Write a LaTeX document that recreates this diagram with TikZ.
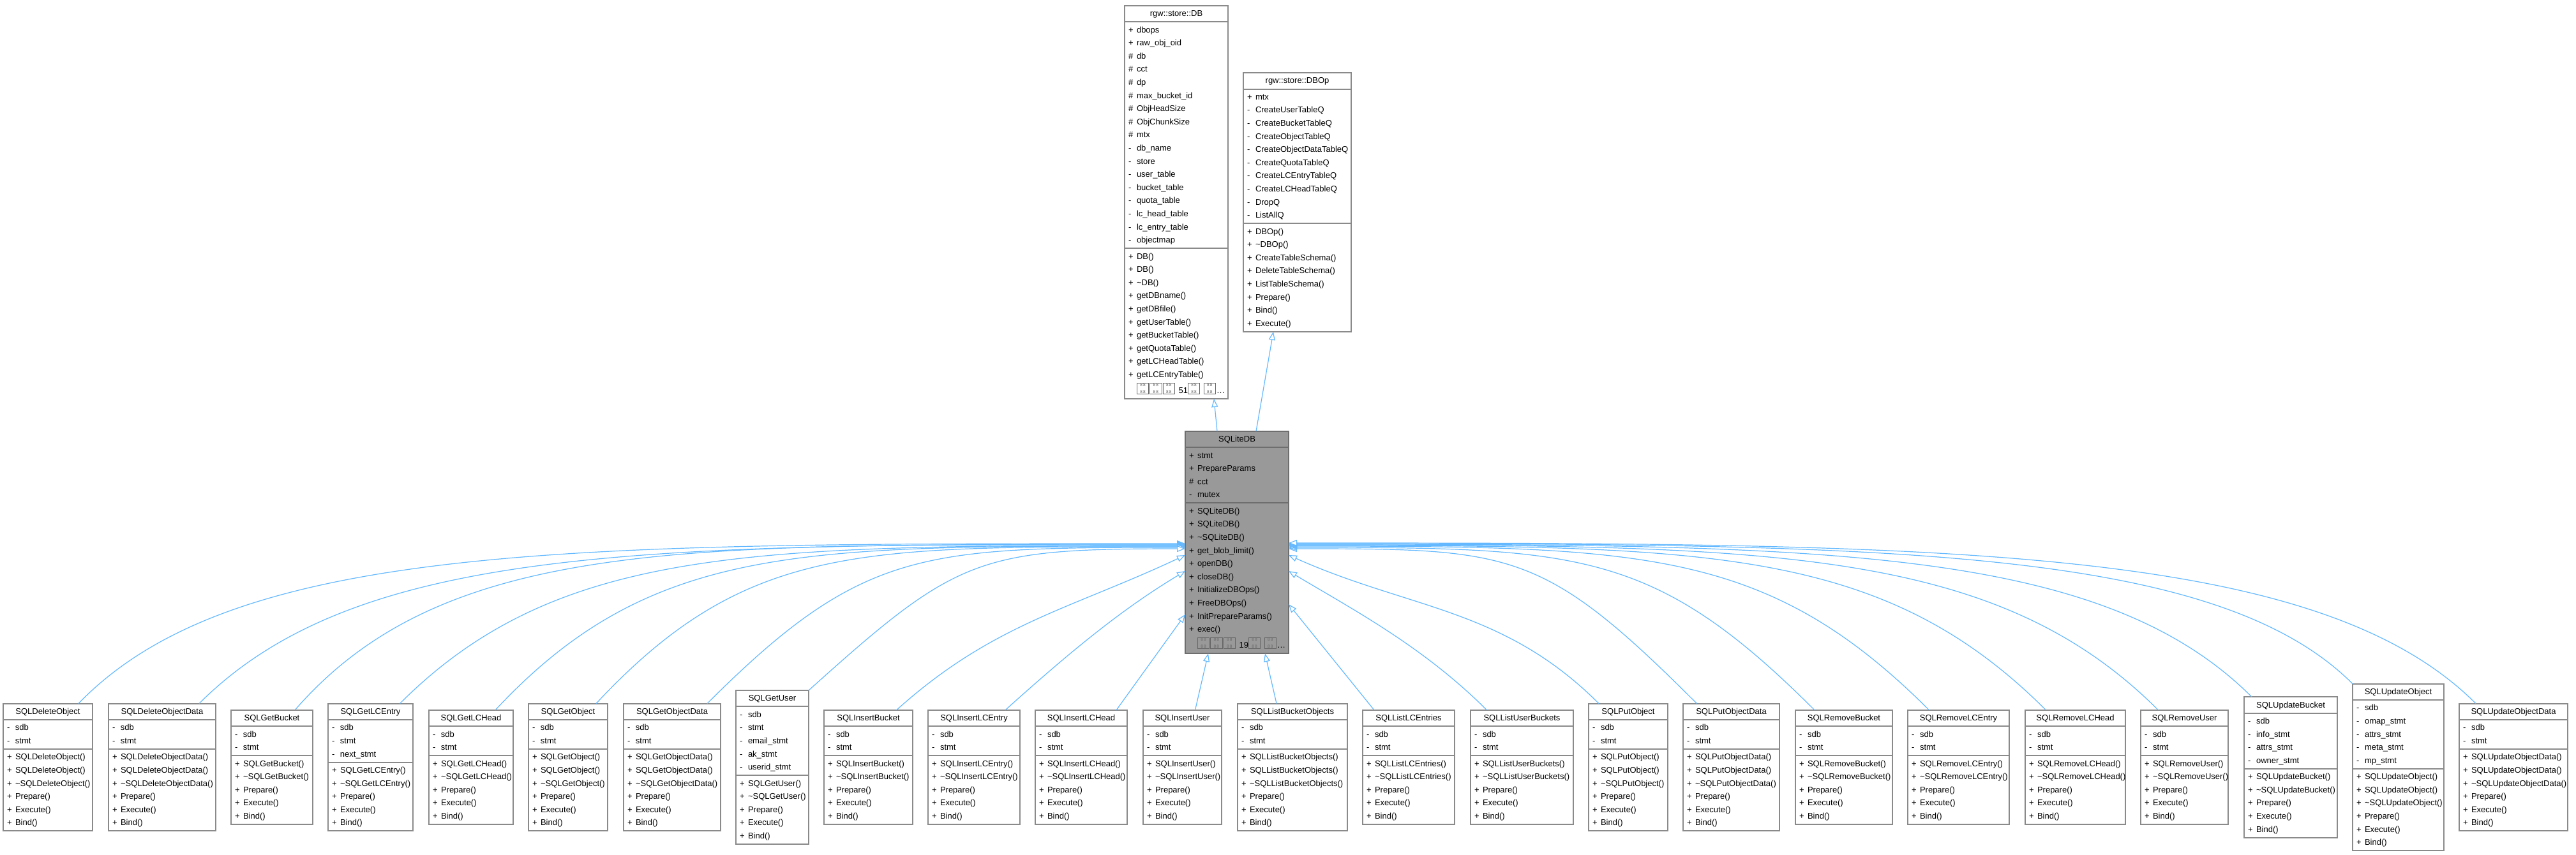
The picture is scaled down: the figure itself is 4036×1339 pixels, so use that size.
\documentclass[tikz,border=0pt]{standalone}
\usepackage{fontspec}
\setmainfont{Liberation Sans}
\usetikzlibrary{shapes.multipart,arrows.meta,calc}

\definecolor{boxgray}{HTML}{8A8A8A}
\definecolor{focusgray}{HTML}{999999}
\definecolor{focusline}{HTML}{6E6E6E}
\definecolor{edgeblue}{HTML}{63B8FF}

% class title, centred in its part
\newcommand\ttl[1]{\makebox[\hsize]{\strut #1}}
% one member line: visibility column + name
\newcommand\mbr[2]{\strut\makebox[6.5pt][l]{#1}#2}
% the missing-glyph boxes of the "more members" line
\newcommand\tofu{\textcolor{black!60}{\setlength\fboxsep{0.3pt}\setlength\fboxrule{0.45pt}\fbox{\makebox[8pt]{\fontsize{3.3}{3.3}\selectfont\shortstack{8\,8\\8\,8}}}}\hspace{0.7pt}}

\begin{document}
\begin{tikzpicture}
        [x=0.5pt, y=-0.5pt,
        umlclass/.style={rectangle split, rectangle split parts=3, draw=boxgray, fill=white, line width=1pt,
          align=left, inner xsep=3pt, inner ysep=0.7pt, outer sep=0pt, anchor=west,
          font=\fontsize{6.5}{10.3}\selectfont},
        focusclass/.style={umlclass, fill=focusgray, draw=focusline},
        derive/.style={edgeblue, line width=0.6pt, -{Triangle[fill=white, length=6.5pt, width=5pt]}}]

        \useasboundingbox (0,0) rectangle (4036,1339);

        % base classes
        \node[umlclass, text width=75pt] (DB) at (1762,317) {\ttl{rgw::store::DB}
          \nodepart{two}\mbr{+}{dbops}\\ \mbr{+}{raw\_obj\_oid}\\ \mbr{\#}{db}\\ \mbr{\#}{cct}\\ \mbr{\#}{dp}\\
          \mbr{\#}{max\_bucket\_id}\\ \mbr{\#}{ObjHeadSize}\\ \mbr{\#}{ObjChunkSize}\\ \mbr{\#}{mtx}\\
          \mbr{-}{db\_name}\\ \mbr{-}{store}\\ \mbr{-}{user\_table}\\ \mbr{-}{bucket\_table}\\ \mbr{-}{quota\_table}\\
          \mbr{-}{lc\_head\_table}\\ \mbr{-}{lc\_entry\_table}\\ \mbr{-}{objectmap}
          \nodepart{three}\mbr{+}{DB()}\\ \mbr{+}{DB()}\\ \mbr{+}{\textasciitilde DB()}\\ \mbr{+}{getDBname()}\\
          \mbr{+}{getDBfile()}\\ \mbr{+}{getUserTable()}\\ \mbr{+}{getBucketTable()}\\ \mbr{+}{getQuotaTable()}\\
          \mbr{+}{getLCHeadTable()}\\ \mbr{+}{getLCEntryTable()}\\ \mbr{}{\mbox{\tofu\tofu\tofu\ 51\tofu\ \tofu\dots}}};
        \node[umlclass, text width=78.5pt] (DBOp) at (1948,317) {\ttl{rgw::store::DBOp}
          \nodepart{two}\mbr{+}{mtx}\\ \mbr{-}{CreateUserTableQ}\\ \mbr{-}{CreateBucketTableQ}\\ \mbr{-}{CreateObjectTableQ}\\
          \mbr{-}{CreateObjectDataTableQ}\\ \mbr{-}{CreateQuotaTableQ}\\ \mbr{-}{CreateLCEntryTableQ}\\
          \mbr{-}{CreateLCHeadTableQ}\\ \mbr{-}{DropQ}\\ \mbr{-}{ListAllQ}
          \nodepart{three}\mbr{+}{DBOp()}\\ \mbr{+}{\textasciitilde DBOp()}\\ \mbr{+}{CreateTableSchema()}\\
          \mbr{+}{DeleteTableSchema()}\\ \mbr{+}{ListTableSchema()}\\ \mbr{+}{Prepare()}\\ \mbr{+}{Bind()}\\ \mbr{+}{Execute()}};

        % the class itself
        \node[focusclass, text width=75pt] (SQLiteDB) at (1857,850) {\ttl{SQLiteDB}
          \nodepart{two}\mbr{+}{stmt}\\ \mbr{+}{PrepareParams}\\ \mbr{\#}{cct}\\ \mbr{-}{mutex}
          \nodepart{three}\mbr{+}{SQLiteDB()}\\ \mbr{+}{SQLiteDB()}\\ \mbr{+}{\textasciitilde SQLiteDB()}\\
          \mbr{+}{get\_blob\_limit()}\\ \mbr{+}{openDB()}\\ \mbr{+}{closeDB()}\\ \mbr{+}{InitializeDBOps()}\\
          \mbr{+}{FreeDBOps()}\\ \mbr{+}{InitPrepareParams()}\\ \mbr{+}{exec()}\\ \mbr{}{\mbox{\tofu\tofu\tofu\ 19\tofu\ \tofu\dots}}};

        % derived classes
        \node[umlclass, text width=64pt] (SQLDeleteObject) at (5,1202.5) {\ttl{SQLDeleteObject}
          \nodepart{two}\mbr{-}{sdb}\\ \mbr{-}{stmt}
          \nodepart{three}\mbr{+}{SQLDeleteObject()}\\ \mbr{+}{SQLDeleteObject()}\\ \mbr{+}{\textasciitilde SQLDeleteObject()}\\
          \mbr{+}{Prepare()}\\ \mbr{+}{Execute()}\\ \mbr{+}{Bind()}};
        \node[umlclass, text width=78pt] (SQLDeleteObjectData) at (170,1202.5) {\ttl{SQLDeleteObjectData}
          \nodepart{two}\mbr{-}{sdb}\\ \mbr{-}{stmt}
          \nodepart{three}\mbr{+}{SQLDeleteObjectData()}\\ \mbr{+}{SQLDeleteObjectData()}\\ \mbr{+}{\textasciitilde SQLDeleteObjectData()}\\
          \mbr{+}{Prepare()}\\ \mbr{+}{Execute()}\\ \mbr{+}{Bind()}};
        \node[umlclass, text width=58pt] (SQLGetBucket) at (362,1202.5) {\ttl{SQLGetBucket}
          \nodepart{two}\mbr{-}{sdb}\\ \mbr{-}{stmt}
          \nodepart{three}\mbr{+}{SQLGetBucket()}\\ \mbr{+}{\textasciitilde SQLGetBucket()}\\
          \mbr{+}{Prepare()}\\ \mbr{+}{Execute()}\\ \mbr{+}{Bind()}};
        \node[umlclass, text width=60.5pt] (SQLGetLCEntry) at (514,1202.5) {\ttl{SQLGetLCEntry}
          \nodepart{two}\mbr{-}{sdb}\\ \mbr{-}{stmt}\\ \mbr{-}{next\_stmt}
          \nodepart{three}\mbr{+}{SQLGetLCEntry()}\\ \mbr{+}{\textasciitilde SQLGetLCEntry()}\\
          \mbr{+}{Prepare()}\\ \mbr{+}{Execute()}\\ \mbr{+}{Bind()}};
        \node[umlclass, text width=60pt] (SQLGetLCHead) at (672,1202.5) {\ttl{SQLGetLCHead}
          \nodepart{two}\mbr{-}{sdb}\\ \mbr{-}{stmt}
          \nodepart{three}\mbr{+}{SQLGetLCHead()}\\ \mbr{+}{\textasciitilde SQLGetLCHead()}\\
          \mbr{+}{Prepare()}\\ \mbr{+}{Execute()}\\ \mbr{+}{Bind()}};
        \node[umlclass, text width=56pt] (SQLGetObject) at (828,1202.5) {\ttl{SQLGetObject}
          \nodepart{two}\mbr{-}{sdb}\\ \mbr{-}{stmt}
          \nodepart{three}\mbr{+}{SQLGetObject()}\\ \mbr{+}{SQLGetObject()}\\ \mbr{+}{\textasciitilde SQLGetObject()}\\
          \mbr{+}{Prepare()}\\ \mbr{+}{Execute()}\\ \mbr{+}{Bind()}};
        \node[umlclass, text width=70pt] (SQLGetObjectData) at (977,1202.5) {\ttl{SQLGetObjectData}
          \nodepart{two}\mbr{-}{sdb}\\ \mbr{-}{stmt}
          \nodepart{three}\mbr{+}{SQLGetObjectData()}\\ \mbr{+}{SQLGetObjectData()}\\ \mbr{+}{\textasciitilde SQLGetObjectData()}\\
          \mbr{+}{Prepare()}\\ \mbr{+}{Execute()}\\ \mbr{+}{Bind()}};
        \node[umlclass, text width=51pt] (SQLGetUser) at (1153,1202.5) {\ttl{SQLGetUser}
          \nodepart{two}\mbr{-}{sdb}\\ \mbr{-}{stmt}\\ \mbr{-}{email\_stmt}\\ \mbr{-}{ak\_stmt}\\ \mbr{-}{userid\_stmt}
          \nodepart{three}\mbr{+}{SQLGetUser()}\\ \mbr{+}{\textasciitilde SQLGetUser()}\\
          \mbr{+}{Prepare()}\\ \mbr{+}{Execute()}\\ \mbr{+}{Bind()}};
        \node[umlclass, text width=63.5pt] (SQLInsertBucket) at (1291,1202.5) {\ttl{SQLInsertBucket}
          \nodepart{two}\mbr{-}{sdb}\\ \mbr{-}{stmt}
          \nodepart{three}\mbr{+}{SQLInsertBucket()}\\ \mbr{+}{\textasciitilde SQLInsertBucket()}\\
          \mbr{+}{Prepare()}\\ \mbr{+}{Execute()}\\ \mbr{+}{Bind()}};
        \node[umlclass, text width=66pt] (SQLInsertLCEntry) at (1454,1202.5) {\ttl{SQLInsertLCEntry}
          \nodepart{two}\mbr{-}{sdb}\\ \mbr{-}{stmt}
          \nodepart{three}\mbr{+}{SQLInsertLCEntry()}\\ \mbr{+}{\textasciitilde SQLInsertLCEntry()}\\
          \mbr{+}{Prepare()}\\ \mbr{+}{Execute()}\\ \mbr{+}{Bind()}};
        \node[umlclass, text width=66pt] (SQLInsertLCHead) at (1622,1202.5) {\ttl{SQLInsertLCHead}
          \nodepart{two}\mbr{-}{sdb}\\ \mbr{-}{stmt}
          \nodepart{three}\mbr{+}{SQLInsertLCHead()}\\ \mbr{+}{\textasciitilde SQLInsertLCHead()}\\
          \mbr{+}{Prepare()}\\ \mbr{+}{Execute()}\\ \mbr{+}{Bind()}};
        \node[umlclass, text width=55.5pt] (SQLInsertUser) at (1791,1202.5) {\ttl{SQLInsertUser}
          \nodepart{two}\mbr{-}{sdb}\\ \mbr{-}{stmt}
          \nodepart{three}\mbr{+}{SQLInsertUser()}\\ \mbr{+}{\textasciitilde SQLInsertUser()}\\
          \mbr{+}{Prepare()}\\ \mbr{+}{Execute()}\\ \mbr{+}{Bind()}};
        \node[umlclass, text width=80pt] (SQLListBucketObjects) at (1939,1202.5) {\ttl{SQLListBucketObjects}
          \nodepart{two}\mbr{-}{sdb}\\ \mbr{-}{stmt}
          \nodepart{three}\mbr{+}{SQLListBucketObjects()}\\ \mbr{+}{SQLListBucketObjects()}\\ \mbr{+}{\textasciitilde SQLListBucketObjects()}\\
          \mbr{+}{Prepare()}\\ \mbr{+}{Execute()}\\ \mbr{+}{Bind()}};
        \node[umlclass, text width=66pt] (SQLListLCEntries) at (2135,1202.5) {\ttl{SQLListLCEntries}
          \nodepart{two}\mbr{-}{sdb}\\ \mbr{-}{stmt}
          \nodepart{three}\mbr{+}{SQLListLCEntries()}\\ \mbr{+}{\textasciitilde SQLListLCEntries()}\\
          \mbr{+}{Prepare()}\\ \mbr{+}{Execute()}\\ \mbr{+}{Bind()}};
        \node[umlclass, text width=74.5pt] (SQLListUserBuckets) at (2304,1202.5) {\ttl{SQLListUserBuckets}
          \nodepart{two}\mbr{-}{sdb}\\ \mbr{-}{stmt}
          \nodepart{three}\mbr{+}{SQLListUserBuckets()}\\ \mbr{+}{\textasciitilde SQLListUserBuckets()}\\
          \mbr{+}{Prepare()}\\ \mbr{+}{Execute()}\\ \mbr{+}{Bind()}};
        \node[umlclass, text width=56pt] (SQLPutObject) at (2489,1202.5) {\ttl{SQLPutObject}
          \nodepart{two}\mbr{-}{sdb}\\ \mbr{-}{stmt}
          \nodepart{three}\mbr{+}{SQLPutObject()}\\ \mbr{+}{SQLPutObject()}\\ \mbr{+}{\textasciitilde SQLPutObject()}\\
          \mbr{+}{Prepare()}\\ \mbr{+}{Execute()}\\ \mbr{+}{Bind()}};
        \node[umlclass, text width=69.5pt] (SQLPutObjectData) at (2637,1202.5) {\ttl{SQLPutObjectData}
          \nodepart{two}\mbr{-}{sdb}\\ \mbr{-}{stmt}
          \nodepart{three}\mbr{+}{SQLPutObjectData()}\\ \mbr{+}{SQLPutObjectData()}\\ \mbr{+}{\textasciitilde SQLPutObjectData()}\\
          \mbr{+}{Prepare()}\\ \mbr{+}{Execute()}\\ \mbr{+}{Bind()}};
        \node[umlclass, text width=70pt] (SQLRemoveBucket) at (2813,1202.5) {\ttl{SQLRemoveBucket}
          \nodepart{two}\mbr{-}{sdb}\\ \mbr{-}{stmt}
          \nodepart{three}\mbr{+}{SQLRemoveBucket()}\\ \mbr{+}{\textasciitilde SQLRemoveBucket()}\\
          \mbr{+}{Prepare()}\\ \mbr{+}{Execute()}\\ \mbr{+}{Bind()}};
        \node[umlclass, text width=73.5pt] (SQLRemoveLCEntry) at (2989,1202.5) {\ttl{SQLRemoveLCEntry}
          \nodepart{two}\mbr{-}{sdb}\\ \mbr{-}{stmt}
          \nodepart{three}\mbr{+}{SQLRemoveLCEntry()}\\ \mbr{+}{\textasciitilde SQLRemoveLCEntry()}\\
          \mbr{+}{Prepare()}\\ \mbr{+}{Execute()}\\ \mbr{+}{Bind()}};
        \node[umlclass, text width=72.5pt] (SQLRemoveLCHead) at (3173,1202.5) {\ttl{SQLRemoveLCHead}
          \nodepart{two}\mbr{-}{sdb}\\ \mbr{-}{stmt}
          \nodepart{three}\mbr{+}{SQLRemoveLCHead()}\\ \mbr{+}{\textasciitilde SQLRemoveLCHead()}\\
          \mbr{+}{Prepare()}\\ \mbr{+}{Execute()}\\ \mbr{+}{Bind()}};
        \node[umlclass, text width=62.5pt] (SQLRemoveUser) at (3354,1202.5) {\ttl{SQLRemoveUser}
          \nodepart{two}\mbr{-}{sdb}\\ \mbr{-}{stmt}
          \nodepart{three}\mbr{+}{SQLRemoveUser()}\\ \mbr{+}{\textasciitilde SQLRemoveUser()}\\
          \mbr{+}{Prepare()}\\ \mbr{+}{Execute()}\\ \mbr{+}{Bind()}};
        \node[umlclass, text width=67pt] (SQLUpdateBucket) at (3516,1202.5) {\ttl{SQLUpdateBucket}
          \nodepart{two}\mbr{-}{sdb}\\ \mbr{-}{info\_stmt}\\ \mbr{-}{attrs\_stmt}\\ \mbr{-}{owner\_stmt}
          \nodepart{three}\mbr{+}{SQLUpdateBucket()}\\ \mbr{+}{\textasciitilde SQLUpdateBucket()}\\
          \mbr{+}{Prepare()}\\ \mbr{+}{Execute()}\\ \mbr{+}{Bind()}};
        \node[umlclass, text width=65.5pt] (SQLUpdateObject) at (3686,1202.5) {\ttl{SQLUpdateObject}
          \nodepart{two}\mbr{-}{sdb}\\ \mbr{-}{omap\_stmt}\\ \mbr{-}{attrs\_stmt}\\ \mbr{-}{meta\_stmt}\\ \mbr{-}{mp\_stmt}
          \nodepart{three}\mbr{+}{SQLUpdateObject()}\\ \mbr{+}{SQLUpdateObject()}\\ \mbr{+}{\textasciitilde SQLUpdateObject()}\\
          \mbr{+}{Prepare()}\\ \mbr{+}{Execute()}\\ \mbr{+}{Bind()}};
        \node[umlclass, text width=79pt] (SQLUpdateObjectData) at (3853,1202.5) {\ttl{SQLUpdateObjectData}
          \nodepart{two}\mbr{-}{sdb}\\ \mbr{-}{stmt}
          \nodepart{three}\mbr{+}{SQLUpdateObjectData()}\\ \mbr{+}{SQLUpdateObjectData()}\\ \mbr{+}{\textasciitilde SQLUpdateObjectData()}\\
          \mbr{+}{Prepare()}\\ \mbr{+}{Execute()}\\ \mbr{+}{Bind()}};

        % SQLiteDB is a DB and a DBOp
        \draw[derive] ($(SQLiteDB.north)+(-31,0)$) -- ($(DB.south)+(59,0)$);
        \draw[derive] ($(SQLiteDB.north)+(30,0)$) -- ($(DBOp.south)+(-37.5,0)$);

        % derived classes, left half
        \draw[derive] ($(SQLDeleteObject.north)+(48,0)$) .. controls +(245,-254) and +(-954,0) .. ($(SQLiteDB.west)+(0,2)$);
        \draw[derive] ($(SQLDeleteObjectData.north)+(58,0)$) .. controls +(248,-248) and +(-850,0) .. ($(SQLiteDB.west)+(0,3)$);
        \draw[derive] ($(SQLGetBucket.north)+(36,0)$) .. controls +(239,-275) and +(-767,0) .. ($(SQLiteDB.west)+(0,4)$);
        \draw[derive] ($(SQLGetLCEntry.north)+(46,0)$) .. controls +(247,-247) and +(-677,0) .. ($(SQLiteDB.west)+(0,5)$);
        \draw[derive] ($(SQLGetLCHead.north)+(38,0)$) .. controls +(246,-264) and +(-595,0) .. ($(SQLiteDB.west)+(0,6)$);
        \draw[derive] ($(SQLGetObject.north)+(44,0)$) .. controls +(236,-253) and +(-508,0) .. ($(SQLiteDB.west)+(0,7)$);
        \draw[derive] ($(SQLGetObjectData.north)+(55,0)$) .. controls +(243,-243) and +(-412,0) .. ($(SQLiteDB.west)+(0,8)$);
        \draw[derive] (SQLGetUser.north east) .. controls +(232,-209) and +(-325,0) .. ($(SQLiteDB.west)+(0,10)$);
        \draw[derive] ($(SQLInsertBucket.north)+(44,0)$) .. controls +(150,-135) and +(-181,85) .. ($(SQLiteDB.west)+(0,20)$);
        \draw[derive] ($(SQLInsertLCEntry.north)+(49,0)$) .. controls +(100,-90) and +(-100,60) .. ($(SQLiteDB.west)+(0,45)$);
        \draw[derive] ($(SQLInsertLCHead.north)+(55,0)$) -- ($(SQLiteDB.west)+(0,113)$);
        \draw[derive] ($(SQLInsertUser.north)+(20,0)$) -- ($(SQLiteDB.south)+(-45,0)$);

        % derived classes, right half
        \draw[derive] ($(SQLListBucketObjects.north)+(-25,0)$) -- ($(SQLiteDB.south)+(44,0)$);
        \draw[derive] ($(SQLListLCEntries.north)+(-54,0)$) -- ($(SQLiteDB.east)+(0,97)$);
        \draw[derive] ($(SQLListUserBuckets.north)+(-55,0)$) .. controls +(-100,-100) and +(100,60) .. ($(SQLiteDB.east)+(0,45)$);
        \draw[derive] ($(SQLPutObject.north)+(-46,0)$) .. controls +(-150,-150) and +(190,85) .. ($(SQLiteDB.east)+(0,20)$);
        \draw[derive] ($(SQLPutObjectData.north)+(-54,0)$) .. controls +(-242,-242) and +(350,0) .. ($(SQLiteDB.east)+(0,10)$);
        \draw[derive] ($(SQLRemoveBucket.north)+(-46,0)$) .. controls +(-253,-253) and +(453,0) .. ($(SQLiteDB.east)+(0,8)$);
        \draw[derive] ($(SQLRemoveLCEntry.north)+(-46,0)$) .. controls +(-255,-255) and +(552,0) .. ($(SQLiteDB.east)+(0,6)$);
        \draw[derive] ($(SQLRemoveLCHead.north)+(-46,0)$) .. controls +(-257,-257) and +(652,0) .. ($(SQLiteDB.east)+(0,5)$);
        \draw[derive] ($(SQLRemoveUser.north)+(-41,0)$) .. controls +(-257,-257) and +(749,0) .. ($(SQLiteDB.east)+(0,4)$);
        \draw[derive] ($(SQLUpdateBucket.north)+(-61,0)$) .. controls +(-238,-238) and +(830,0) .. ($(SQLiteDB.east)+(0,3)$);
        \draw[derive] (SQLUpdateObject.north west) .. controls +(-218,-218) and +(917,0) .. ($(SQLiteDB.east)+(0,2)$);
        \draw[derive] ($(SQLUpdateObjectData.north)+(-59,0)$) .. controls +(-250,-250) and +(1023,0) .. ($(SQLiteDB.east)+(0,1)$);

\end{tikzpicture}
\end{document}
